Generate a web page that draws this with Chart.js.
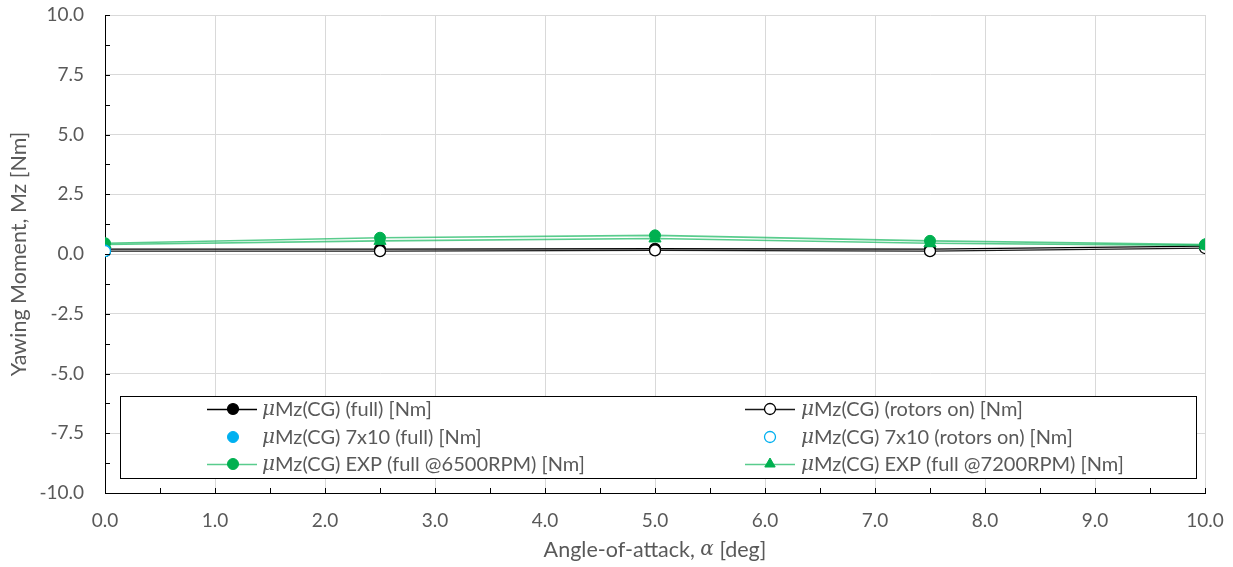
<!DOCTYPE html>
<html>
<head>
<meta charset="utf-8">
<script src="https://cdn.jsdelivr.net/npm/chart.js@4/dist/chart.umd.min.js"></script>
<style>
  html, body { margin: 0; padding: 0; background: #fff; }
  #wrap { width: 1233px; height: 567px; }
</style>
</head>
<body>
<div id="wrap"><canvas id="c" width="1233" height="567"></canvas></div>
<script>
// Angle-of-attack sweep [deg]
const alpha = [0, 2.5, 5, 7.5, 10];
// Yawing moment about CG [Nm]
const mzFull = [0.20, 0.20, 0.22, 0.20, 0.33];
const mzRotorsOn = [0.12, 0.12, 0.15, 0.12, 0.25];
const mzExp6500 = [0.45, 0.68, 0.78, 0.55, 0.40];
const mzExp7200 = [0.40, 0.55, 0.65, 0.45, 0.36];
// 7x10 tunnel points
const alpha7x10 = [0];
const mz7x10Full = [0.15];
const mz7x10RotorsOn = [0.12];

const seriesLabels = [
  'Mz(CG) (full) [Nm]',
  'Mz(CG) (rotors on) [Nm]',
  'Mz(CG) 7x10 (full) [Nm]',
  'Mz(CG) 7x10 (rotors on) [Nm]',
  'Mz(CG) EXP (full @6500RPM) [Nm]',
  'Mz(CG) EXP (full @7200RPM) [Nm]'
];
const yTicks = { min: -10, max: 10, step: 2.5, minor: 1.25 };
const xTicks = { min: 0, max: 10, step: 1, minor: 0.5 };

const pts = (xs, ys) => xs.map((x, i) => ({ x, y: ys[i] }));

const FONT = 'Lato, "Open Sans", sans-serif';
const TXT = '#595959';
const GREEN = '#00B050';
const GREEN_LINE = 'rgba(0,176,80,0.65)';
const BLUE = '#00B0F0';

const datasets = [
  { label: seriesLabels[0], data: pts(alpha, mzFull), showLine: true,
    borderColor: '#000', backgroundColor: '#000', borderWidth: 1.3,
    pointRadius: 5.5, pointBorderWidth: 1.2, pointStyle: 'circle', order: 5 },
  { label: seriesLabels[1], data: pts(alpha, mzRotorsOn), showLine: true,
    borderColor: '#1a1a1a', backgroundColor: '#fff', pointBorderColor: '#000', borderWidth: 1.3,
    pointRadius: 5.5, pointBorderWidth: 1.3, pointStyle: 'circle', order: 4 },
  { label: seriesLabels[2], data: pts(alpha7x10, mz7x10Full), showLine: false,
    borderColor: BLUE, backgroundColor: BLUE, pointRadius: 5.5, pointBorderWidth: 1,
    pointStyle: 'circle', order: 1 },
  { label: seriesLabels[3], data: pts(alpha7x10, mz7x10RotorsOn), showLine: false,
    borderColor: BLUE, backgroundColor: '#fff', pointRadius: 5.5, pointBorderWidth: 1.3,
    pointStyle: 'circle', order: 0 },
  { label: seriesLabels[4], data: pts(alpha, mzExp6500), showLine: true,
    borderColor: GREEN_LINE, backgroundColor: GREEN, pointBorderColor: GREEN, borderWidth: 1.6,
    pointRadius: 5.5, pointBorderWidth: 1, pointStyle: 'circle', order: 2 },
  { label: seriesLabels[5], data: pts(alpha, mzExp7200), showLine: true,
    borderColor: GREEN_LINE, backgroundColor: GREEN, pointBorderColor: GREEN, borderWidth: 1.6,
    pointRadius: 7, pointBorderWidth: 1, pointStyle: 'triangle', order: 3 }
];

// Inward major/minor tick marks, the framed legend and the x-axis title
const decorations = {
  id: 'decorations',
  afterDraw(chart) {
    const { ctx, chartArea: a, scales: { x, y } } = chart;
    ctx.save();
    ctx.strokeStyle = '#000';
    ctx.lineWidth = 1;
    ctx.beginPath();
    for (let v = yTicks.min; v <= yTicks.max + 1e-9; v += yTicks.minor) {
      const py = Math.round(y.getPixelForValue(v)) + 0.5;
      ctx.moveTo(a.left, py); ctx.lineTo(a.left + 5, py);
    }
    for (let v = xTicks.min; v <= xTicks.max + 1e-9; v += xTicks.minor) {
      const px = Math.round(x.getPixelForValue(v)) + 0.5;
      ctx.moveTo(px, a.bottom); ctx.lineTo(px, a.bottom - 5);
    }
    ctx.stroke();

    // legend box
    const L = a.left + 15, T = a.top + 381, R = a.right - 9, B = a.top + 463;
    ctx.fillStyle = '#fff';
    ctx.fillRect(L, T, R - L, B - T);
    ctx.strokeStyle = '#000';
    ctx.strokeRect(L + 0.5, T + 0.5, R - L, B - T);

    const rowsY = [T + 13, T + 41, T + 68];
    const cols = [{ l0: a.left + 102, l1: a.left + 152, m: a.left + 128, t: a.left + 157 },
                  { l0: a.left + 640, l1: a.left + 690, m: a.left + 665, t: a.left + 696 }];
    const ds = chart.data.datasets;
    ds.forEach((d, i) => {
      const c = cols[i % 2], ry = rowsY[Math.floor(i / 2)];
      if (d.showLine) {
        ctx.strokeStyle = d.borderColor;
        ctx.lineWidth = 1.5;
        ctx.beginPath(); ctx.moveTo(c.l0, ry + 0.5); ctx.lineTo(c.l1, ry + 0.5); ctx.stroke();
      }
      ctx.lineWidth = d.pointBorderWidth;
      ctx.strokeStyle = d.pointBorderColor || d.borderColor;
      ctx.fillStyle = d.backgroundColor;
      Chart.helpers.drawPoint(ctx, { pointStyle: d.pointStyle, radius: d.pointStyle === 'triangle' ? 6 : 5.5, borderWidth: d.pointBorderWidth }, c.m, ry);
      ctx.textBaseline = 'middle';
      ctx.textAlign = 'left';
      ctx.fillStyle = TXT;
      ctx.font = 'italic 20px "DejaVu Serif", serif';
      ctx.fillText('μ', c.t, ry + 1);
      const w = ctx.measureText('μ').width;
      ctx.font = '20px ' + FONT;
      ctx.fillText(d.label, c.t + w, ry + 1);
    });

    // x-axis title with italic alpha
    const parts = [['Angle-of-attack, ', '21.5px ' + FONT], ['α', 'italic 20px "DejaVu Serif", serif'], [' [deg]', '21.5px ' + FONT]];
    let total = 0;
    parts.forEach(p => { ctx.font = p[1]; total += ctx.measureText(p[0]).width; });
    let px = (a.left + a.right) / 2 - total / 2;
    ctx.fillStyle = TXT;
    ctx.textBaseline = 'middle';
    parts.forEach(p => { ctx.font = p[1]; ctx.fillText(p[0], px, 550); px += ctx.measureText(p[0]).width; });
    ctx.restore();
  }
};

new Chart(document.getElementById('c'), {
  type: 'scatter',
  data: { datasets },
  options: {
    responsive: false,
    animation: false,
    devicePixelRatio: 1,
    layout: { padding: { top: 15, right: 28, bottom: 0, left: 0 } },
    plugins: { legend: { display: false }, tooltip: { enabled: false } },
    scales: {
      x: {
        type: 'linear', min: xTicks.min, max: xTicks.max,
        ticks: { stepSize: xTicks.step, callback: v => v.toFixed(1), color: TXT,
                 font: { family: FONT, size: 19 }, padding: 16, maxRotation: 0 },
        grid: { color: '#d9d9d9', drawTicks: false },
        border: { display: true, color: '#000', width: 1 },
        afterFit: s => { s.height = 74; s.paddingLeft = 0; s.paddingRight = 0; }
      },
      y: {
        type: 'linear', min: yTicks.min, max: yTicks.max,
        ticks: { stepSize: yTicks.step, callback: v => v.toFixed(1), color: TXT,
                 font: { family: FONT, size: 19 }, padding: 21 },
        grid: { color: '#d9d9d9', drawTicks: false },
        border: { display: true, color: '#000', width: 1 },
        title: { display: true, text: 'Yawing Moment, Mz [Nm]', color: TXT,
                 font: { family: FONT, size: 21.5 }, padding: { top: 6, bottom: 0 } },
        afterFit: s => { s.width = 105; s.paddingTop = 0; s.paddingBottom = 0; }
      }
    }
  },
  plugins: [decorations]
});
</script>
</body>
</html>
